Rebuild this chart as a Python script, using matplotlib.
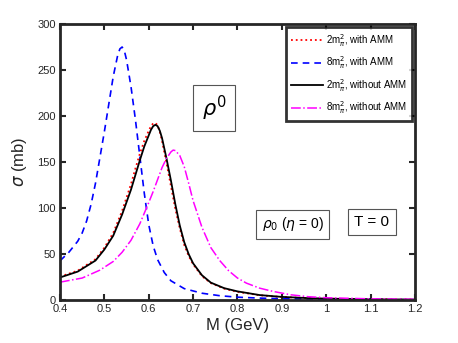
import matplotlib.pyplot as plt

# values
m_red = [0.40, 0.44, 0.48, 0.50, 0.52, 0.54, 0.56, 0.57, 0.58, 0.59, 0.60, 0.605, 0.61, 0.615,
         0.62, 0.625, 0.63, 0.64, 0.65, 0.66, 0.67, 0.68, 0.69, 0.70, 0.72, 0.74, 0.77, 0.80,
         0.85, 0.90, 0.95, 1.0, 1.1, 1.2]
sig_red = [25.5, 32, 44.5, 57, 73, 97, 126, 143, 159, 173, 184, 189, 192, 192.5,
           190, 183, 173, 149, 124, 99, 78, 60, 48, 39, 26, 18.5, 12.5, 9,
           5.3, 3.4, 2.3, 1.6, 0.9, 0.6]

m_blue = [0.40, 0.42, 0.44, 0.45, 0.46, 0.47, 0.48, 0.49, 0.50, 0.51, 0.52, 0.53, 0.535, 0.54,
          0.545, 0.55, 0.56, 0.57, 0.58, 0.59, 0.60, 0.61, 0.62, 0.635, 0.65, 0.68, 0.72, 0.76,
          0.80, 0.85, 0.90, 1.0, 1.1, 1.2]
sig_blue = [42.7, 52, 64, 73, 86, 104, 127, 155, 183, 213, 243, 266, 273, 275,
            271, 261, 232, 196, 156, 116, 82, 59, 44, 30, 21, 12.5, 7.5, 4.8,
            3.2, 2.2, 1.5, 0.9, 0.6, 0.4]

m_black = [0.40, 0.44, 0.48, 0.50, 0.52, 0.54, 0.56, 0.57, 0.58, 0.59, 0.60, 0.605, 0.61, 0.615,
           0.62, 0.625, 0.63, 0.64, 0.65, 0.66, 0.67, 0.68, 0.69, 0.70, 0.72, 0.74, 0.77, 0.80,
           0.85, 0.90, 0.95, 1.0, 1.1, 1.2]
sig_black = [24.6, 31, 43, 55, 70, 93, 120, 136, 152, 167, 179, 185, 189, 190.5,
             189, 184, 176, 154, 130, 104, 81, 63, 50, 40, 27, 19, 13, 9.5,
             5.5, 3.5, 2.4, 1.6, 0.9, 0.6]

m_mag = [0.40, 0.45, 0.49, 0.52, 0.54, 0.56, 0.58, 0.60, 0.61, 0.62, 0.63, 0.64, 0.65, 0.655,
         0.66, 0.67, 0.68, 0.69, 0.70, 0.72, 0.74, 0.76, 0.78, 0.80, 0.82, 0.85, 0.88, 0.92,
         0.96, 1.0, 1.1, 1.2]
sig_mag = [19.5, 24, 32.6, 42, 52, 65, 83, 106, 118, 131, 144, 154, 161, 163,
           162.5, 157, 145, 127, 108, 79, 57, 43, 32, 24, 18.5, 13, 9.5, 5.8,
           3.7, 2.6, 1.4, 0.9]

labels = [r"2m$^2_\pi$, with AMM", r"8m$^2_\pi$, with AMM",
          r"2m$^2_\pi$, without AMM", r"8m$^2_\pi$, without AMM"]

plt.rcParams["font.family"] = ["Liberation Sans", "DejaVu Sans"]
plt.rcParams["mathtext.fontset"] = "dejavusans"

fig = plt.figure(figsize=(4.58, 3.43), dpi=100)
ax = fig.add_axes([0.131, 0.125, 0.775, 0.805])

ax.plot(m_red, sig_red, ":", color="red", lw=1.3, label=labels[0])
ax.plot(m_blue, sig_blue, "--", color="blue", lw=1.2, dashes=(4, 3), label=labels[1])
ax.plot(m_black, sig_black, "-", color="black", lw=1.3, label=labels[2])
ax.plot(m_mag, sig_mag, "-.", color="magenta", lw=1.1, label=labels[3])

ax.set_xlim(0.4, 1.2)
ax.set_ylim(0, 300)
ax.set_xticks([0.4, 0.5, 0.6, 0.7, 0.8, 0.9, 1.0, 1.1, 1.2])
ax.set_xticklabels(["0.4", "0.5", "0.6", "0.7", "0.8", "0.9", "1", "1.1", "1.2"])
ax.set_yticks([0, 50, 100, 150, 200, 250, 300])
ax.tick_params(direction="in", top=True, right=True, length=4, width=1.5,
               labelsize=8, colors="#262626", pad=3)
for sp in ax.spines.values():
    sp.set_linewidth(2)
    sp.set_color("#262626")

ax.set_xlabel("M (GeV)", fontsize=12, color="#262626", labelpad=3)
ax.set_ylabel(r"$\sigma$ (mb)", fontsize=12, color="#262626", labelpad=6)

leg = ax.legend(loc="upper right", fontsize=7, frameon=True, fancybox=False,
                edgecolor="black", borderaxespad=0.3, handlelength=3.3,
                labelspacing=0.6, borderpad=0.5, handletextpad=0.3)
leg.get_frame().set_linewidth(2)

box = dict(boxstyle="square,pad=0.4", fc="white", ec="#555555", lw=0.8)
ax.text(0.434, 0.696, r"$\rho^0$", fontsize=15, ha="center", va="center",
        transform=ax.transAxes, bbox=box)
ax.text(0.656, 0.275, r"$\rho_0$ ($\eta$ = 0)", fontsize=10, ha="center", va="center",
        transform=ax.transAxes, bbox=box)
ax.text(0.879, 0.283, "T = 0", fontsize=11, ha="center", va="center",
        transform=ax.transAxes, bbox=box)

fig.savefig("out.png", dpi=100)
